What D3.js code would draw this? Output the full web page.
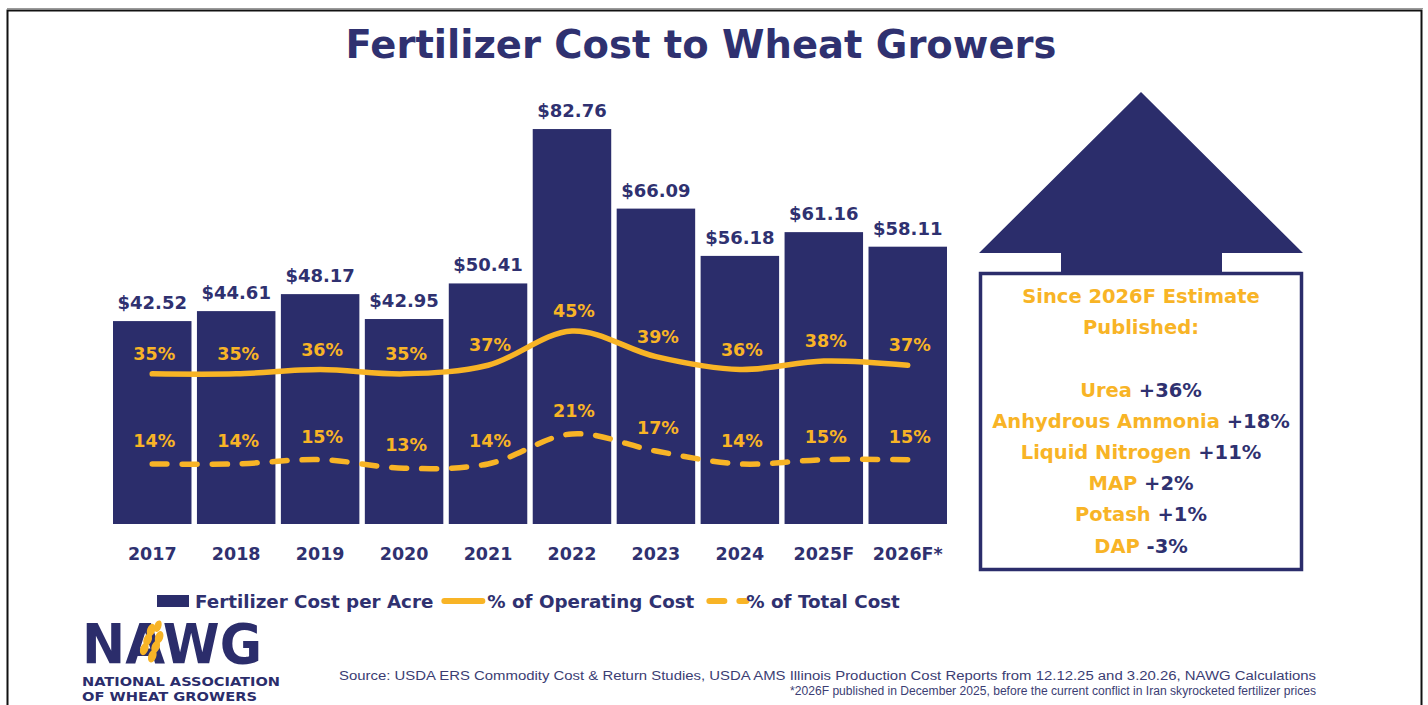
<!DOCTYPE html>
<html><head><meta charset="utf-8">
<script src="https://cdn.jsdelivr.net/npm/d3@7"></script>
<style>
html,body{margin:0;padding:0;background:#fff;}
svg{display:block;}
text{font-family:"DejaVu Sans",sans-serif;font-weight:bold;}
</style></head>
<body>
<svg id="c" width="1428" height="705"></svg>
<script>
const years = ["2017","2018","2019","2020","2021","2022","2023","2024","2025F","2026F*"];
const costPerAcre = [42.52,44.61,48.17,42.95,50.41,82.76,66.09,56.18,61.16,58.11];
const pctOperating = [35,35,36,35,37,45,39,36,38,37];
const pctTotal = [14,14,15,13,14,21,17,14,15,15];
const legendLabels = ["Fertilizer Cost per Acre","% of Operating Cost","% of Total Cost"];
const boxHeader = ["Since 2026F Estimate","Published:"];
const boxNames = ["Urea","Anhydrous Ammonia","Liquid Nitrogen","MAP","Potash","DAP"];
const boxChanges = ["+36%","+18%","+11%","+2%","+1%","-3%"];
const sourceLines = ["Source: USDA ERS Commodity Cost & Return Studies, USDA AMS Illinois Production Cost Reports from 12.12.25 and 3.20.26, NAWG Calculations",
  "*2026F published in December 2025, before the current conflict in Iran skyrocketed fertilizer prices"];

const NAVY = "#2b2d6b", ORANGE = "#f8b426", TEXTNAVY = "#2f3170";
const svg = d3.select("#c");

// frame
svg.append("line").attr("x1",7).attr("x2",1423).attr("y1",8.5).attr("y2",8.5).attr("stroke","#9a9a9a").attr("stroke-width",1);
svg.append("rect").attr("x",7.5).attr("y",10.5).attr("width",1414).attr("height",720)
  .attr("fill","none").attr("stroke","#111").attr("stroke-width",2);

// title
svg.append("text").attr("x",701).attr("y",58).attr("text-anchor","middle")
  .attr("font-size",38.5).attr("fill",TEXTNAVY).text("Fertilizer Cost to Wheat Growers");

// scales
const x = d3.scaleBand().domain(years).range([113,947]).paddingInner(0.065).paddingOuter(0);
const yBar = d3.scaleLinear().domain([0,90]).range([524,94.5]);
const yPct = d3.scaleLinear().domain([0,100]).range([524,95]);

// bars
svg.append("g").selectAll("rect").data(years).join("rect")
  .attr("x",d=>x(d)).attr("width",x.bandwidth())
  .attr("y",(d,i)=>yBar(costPerAcre[i])).attr("height",(d,i)=>yBar(0)-yBar(costPerAcre[i]))
  .attr("fill",NAVY);

// bar labels
svg.append("g").selectAll("text").data(years).join("text")
  .attr("x",d=>x(d)+x.bandwidth()/2).attr("y",(d,i)=>yBar(costPerAcre[i])-12)
  .attr("text-anchor","middle").attr("font-size",18).attr("fill",TEXTNAVY)
  .text((d,i)=>"$"+costPerAcre[i].toFixed(2));

// x axis
const xAxis = d3.axisBottom(x).tickSize(0).tickPadding(0);
const gx = svg.append("g").attr("transform","translate(0,548)").call(xAxis);
gx.select(".domain").remove();
gx.selectAll("text").attr("font-size",17.5).attr("fill",TEXTNAVY)
  .style("font-family","DejaVu Sans").style("font-weight","bold").attr("dy","0.71em");

// lines
const cx = d => x(d)+x.bandwidth()/2;
const lineOp = d3.line().x((d,i)=>cx(years[i])).y(d=>yPct(d)).curve(d3.curveCatmullRom.alpha(0.5));
svg.append("path").datum(pctOperating).attr("d",lineOp).attr("fill","none")
  .attr("stroke",ORANGE).attr("stroke-width",5.5).attr("stroke-linecap","round").attr("stroke-linejoin","round");
svg.append("path").datum(pctTotal).attr("d",lineOp).attr("fill","none")
  .attr("stroke",ORANGE).attr("stroke-width",5.5).attr("stroke-linecap","round")
  .attr("stroke-dasharray","15,15");

// pct labels
svg.append("g").selectAll("text").data(pctOperating).join("text")
  .attr("x",(d,i)=>cx(years[i])+2).attr("y",d=>yPct(d)-14)
  .attr("text-anchor","middle").attr("font-size",17.5).attr("fill",ORANGE).text(d=>d+"%");
svg.append("g").selectAll("text").data(pctTotal).join("text")
  .attr("x",(d,i)=>cx(years[i])+2).attr("y",d=>yPct(d)-17)
  .attr("text-anchor","middle").attr("font-size",17.5).attr("fill",ORANGE).text(d=>d+"%");

// legend
const lg = svg.append("g");
let lx = 157; const ly = 601;
lg.append("rect").attr("x",lx).attr("y",ly-6).attr("width",32).attr("height",12).attr("fill",NAVY);
lx += 38;
let t = lg.append("text").attr("x",lx).attr("y",ly+7).attr("font-size",18.3).attr("fill",TEXTNAVY).text(legendLabels[0]);
lx += t.node().getComputedTextLength()+8;
lg.append("line").attr("x1",lx+3).attr("x2",lx+41).attr("y1",ly).attr("y2",ly).attr("stroke",ORANGE).attr("stroke-width",6).attr("stroke-linecap","round");
lx += 46;
t = lg.append("text").attr("x",lx).attr("y",ly+7).attr("font-size",18.3).attr("fill",TEXTNAVY).text(legendLabels[1]);
lx += t.node().getComputedTextLength()+12;
lg.append("line").attr("x1",lx+3).attr("x2",lx+40).attr("y1",ly).attr("y2",ly).attr("stroke",ORANGE).attr("stroke-width",6).attr("stroke-linecap","round").attr("stroke-dasharray","15,15");
lx += 40;
lg.append("text").attr("x",lx).attr("y",ly+7).attr("font-size",18.3).attr("fill",TEXTNAVY).text(legendLabels[2]);

// arrow + box
const ax = 1141;
svg.append("path").attr("d",`M${ax},92 L1303,253 L1222,253 L1222,273 L1061,273 L1061,253 L979,253 Z`).attr("fill",NAVY);
svg.append("rect").attr("x",980.5).attr("y",273.5).attr("width",321).attr("height",296).attr("fill","#fff")
  .attr("stroke",NAVY).attr("stroke-width",3.5);
svg.append("g").selectAll("text").data(boxHeader).join("text")
  .attr("x",ax).attr("y",(d,i)=>303+i*31).attr("text-anchor","middle").attr("font-size",19.5).attr("fill",ORANGE).text(d=>d);
const bt = svg.append("g").selectAll("text").data(boxNames).join("text")
  .attr("x",ax).attr("y",(d,i)=>397+i*31.1).attr("text-anchor","middle").attr("font-size",19.5);
bt.append("tspan").attr("fill",ORANGE).text(d=>d+" ");
bt.append("tspan").attr("fill",TEXTNAVY).text((d,i)=>boxChanges[i]);

// source
svg.append("g").selectAll("text").data(sourceLines).join("text")
  .attr("x",1316).attr("y",(d,i)=>680+i*15).attr("text-anchor","end")
  .style("font-family","'Liberation Sans', Arial, sans-serif").style("font-weight","normal")
  .attr("font-size",12.5).attr("fill","#3b3d73")
  .attr("textLength",(d,i)=>i===0?977:526).attr("lengthAdjust","spacingAndGlyphs").text(d=>d);

// logo
const logo = svg.append("g");
logo.append("text").attr("x",82).attr("y",663).attr("font-size",55).style("font-weight","900").attr("fill",NAVY)
  .attr("textLength",180).attr("lengthAdjust","spacingAndGlyphs").text("NAWG");
// wheat head
const wg = logo.append("g").attr("transform","translate(151,645) rotate(20)");
[[-5,-14],[5,-10],[-5,-4],[5,0],[-5,6],[5,10]].forEach(p=>{
  wg.append("ellipse").attr("cx",p[0]).attr("cy",p[1]).attr("rx",4).attr("ry",6.5).attr("fill",ORANGE);
});
wg.append("ellipse").attr("cx",0).attr("cy",-20).attr("rx",3.5).attr("ry",6).attr("fill",ORANGE);
logo.append("text").attr("x",82).attr("y",686).attr("font-size",13).style("font-weight","900").attr("fill",NAVY)
  .attr("textLength",198).attr("lengthAdjust","spacingAndGlyphs").text("NATIONAL ASSOCIATION");
logo.append("text").attr("x",82).attr("y",701).attr("font-size",13).style("font-weight","900").attr("fill",NAVY)
  .attr("textLength",175).attr("lengthAdjust","spacingAndGlyphs").text("OF WHEAT GROWERS");
</script>
</body></html>
